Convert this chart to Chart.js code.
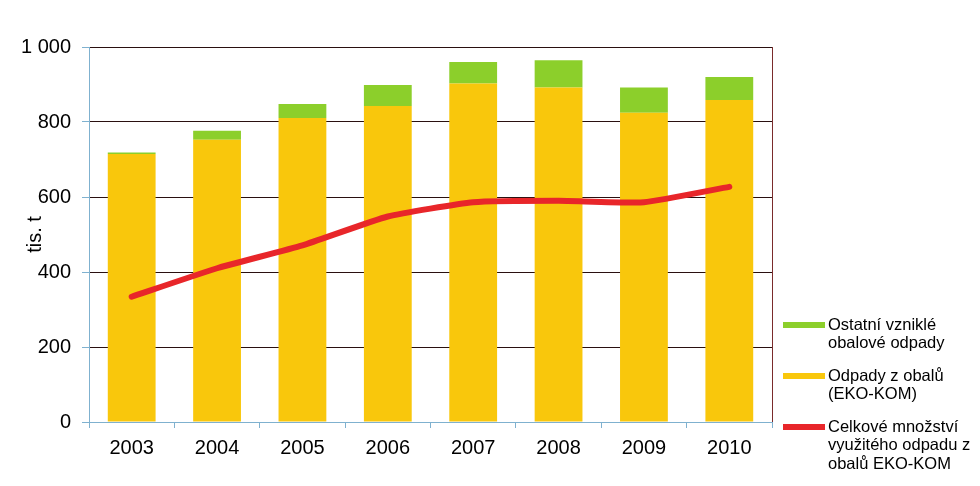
<!DOCTYPE html>
<html>
<head>
<meta charset="utf-8">
<script src="https://cdn.jsdelivr.net/npm/chart.js@4.4.1/dist/chart.umd.min.js"></script>
<style>
html,body{margin:0;padding:0;background:#fff;}
#wrap{width:980px;height:486px;position:relative;}
</style>
</head>
<body>
<div id="wrap"><canvas id="c" width="980" height="486"></canvas></div>
<script>
const categories = ['2003','2004','2005','2006','2007','2008','2009','2010'];
const ekoKom = [715, 753, 811, 843, 903, 892, 825, 859];
const ostatni = [4, 24, 37, 56, 57, 73, 67, 61];
const vyuzite = [334, 410, 471, 548, 586, 590, 586, 627];
const yTicks = [0, 200, 400, 600, 800, 1000];
const legendLabels = [
  ['Ostatní vzniklé', 'obalové odpady'],
  ['Odpady z obalů', '(EKO-KOM)'],
  ['Celkové množství', 'využitého odpadu z', 'obalů EKO-KOM']
];

const GREEN = '#8ccf2b', YELLOW = '#f9c70c', RED = '#e8262a';
const FONT = "'Liberation Sans', Arial, sans-serif";

const extras = {
  id: 'extras',
  afterDraw(chart) {
    const ctx = chart.ctx, a = chart.chartArea;
    ctx.save();
    ctx.strokeStyle = '#7a2b2b';
    ctx.lineWidth = 1;
    ctx.beginPath();
    ctx.moveTo(Math.round(a.right) + 0.5, a.top);
    ctx.lineTo(Math.round(a.right) + 0.5, a.bottom);
    ctx.stroke();
    // legend
    const colors = [GREEN, YELLOW, RED];
    const tops = [325, 376, 427];
    ctx.font = '16.5px ' + FONT;
    ctx.fillStyle = '#000';
    ctx.textBaseline = 'middle';
    ctx.textAlign = 'left';
    legendLabels.forEach((lines, i) => {
      ctx.strokeStyle = colors[i];
      ctx.lineWidth = 6;
      ctx.lineCap = 'butt';
      ctx.beginPath();
      ctx.moveTo(783, tops[i]);
      ctx.lineTo(825, tops[i]);
      ctx.stroke();
      lines.forEach((t, j) => ctx.fillText(t, 828, tops[i] + j * 18.5));
    });
    ctx.restore();
  }
};

new Chart(document.getElementById('c'), {
  data: {
    labels: categories,
    datasets: [
      { type: 'line', label: 'Celkové množství využitého odpadu z obalů EKO-KOM', data: vyuzite,
        borderColor: RED, backgroundColor: RED, borderWidth: 6, pointRadius: 0, tension: 0.15,
        borderCapStyle: 'round', borderJoinStyle: 'round', stack: 'line', order: 0 },
      { type: 'bar', label: 'Odpady z obalů (EKO-KOM)', data: ekoKom, backgroundColor: YELLOW,
        stack: 'bars', order: 1, barPercentage: 0.56, categoryPercentage: 1.0 },
      { type: 'bar', label: 'Ostatní vzniklé obalové odpady', data: ostatni, backgroundColor: GREEN,
        stack: 'bars', order: 1, barPercentage: 0.56, categoryPercentage: 1.0 }
    ]
  },
  options: {
    responsive: false,
    animation: false,
    devicePixelRatio: 1,
    layout: { padding: { top: 47, right: 208, bottom: 0, left: 0 } },
    plugins: { legend: { display: false }, tooltip: { enabled: false } },
    scales: {
      x: {
        stacked: true,
        offset: true,
        grid: { offset: true, drawOnChartArea: false, drawTicks: true, tickLength: 6, tickColor: '#7fb1cf' },
        border: { color: '#7fb1cf', width: 1 },
        ticks: { color: '#000', font: { family: FONT, size: 20 }, padding: 8 },
        afterFit(s) { s.height = 64; }
      },
      y: {
        stacked: true,
        min: 0, max: 1000,
        afterBuildTicks(s) { s.ticks = yTicks.map(v => ({ value: v })); },
        grid: { color: '#2a1010', lineWidth: 1, drawTicks: true, tickLength: 7, tickColor: '#7fb1cf' },
        border: { color: '#7fb1cf', width: 1 },
        ticks: { color: '#000', font: { family: FONT, size: 20 }, padding: 11,
          callback: v => v >= 1000 ? String(v).replace(/(\d)(\d{3})$/, '$1 $2') : String(v) },
        title: { display: true, text: 'tis. t', color: '#000', font: { family: FONT, size: 20 }, padding: { top: 23, bottom: 0 } },
        afterFit(s) { s.width = 89; }
      }
    }
  },
  plugins: [extras]
});
</script>
</body>
</html>
